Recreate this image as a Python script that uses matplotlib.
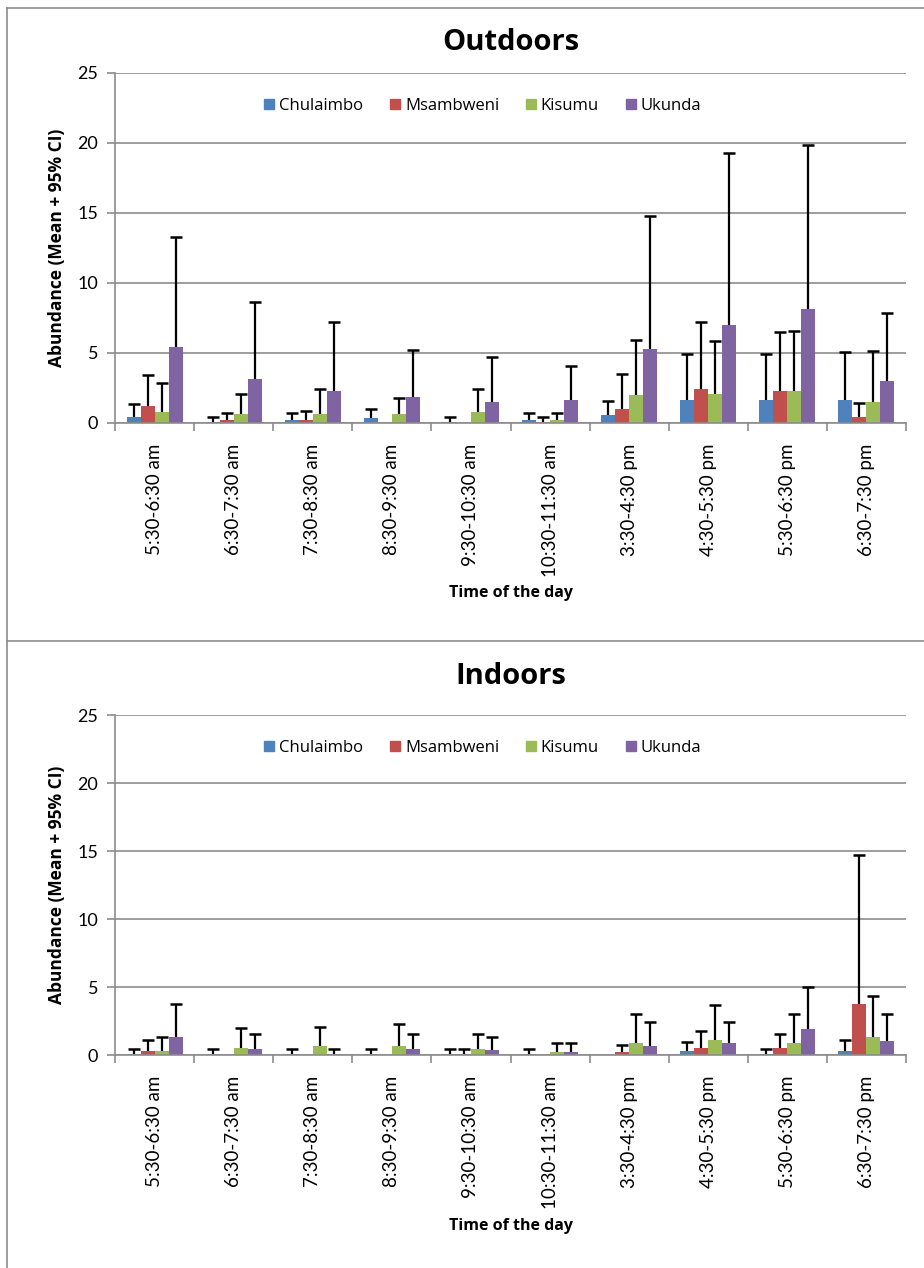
import matplotlib
matplotlib.use("Agg")
import matplotlib.pyplot as plt
import numpy as np
from matplotlib.lines import Line2D
from matplotlib.patches import Patch

# franjas horarias
franjas = ["5:30-6:30 am", "6:30-7:30 am", "7:30-8:30 am", "8:30-9:30 am",
           "9:30-10:30 am", "10:30-11:30 am", "3:30-4:30 pm", "4:30-5:30 pm",
           "5:30-6:30 pm", "6:30-7:30 pm"]
sitios = ["Chulaimbo", "Msambweni", "Kisumu", "Ukunda"]
colores = ["#4F81BD", "#C0504D", "#9BBB59", "#8064A2"]

# Outdoors: media y limite superior del IC 95%
out_chulaimbo = [0.43, 0.07, 0.19, 0.33, 0.05, 0.19, 0.55, 1.65, 1.65, 1.65]
out_chulaimbo_ci = [1.36, 0.43, 0.72, 1.0, 0.43, 0.72, 1.58, 4.95, 4.95, 5.1]
out_msambweni = [1.2, 0.19, 0.19, 0.0, 0.0, 0.05, 0.98, 2.44, 2.32, 0.43]
out_msambweni_ci = [3.42, 0.72, 0.89, 0.0, 0.0, 0.43, 3.49, 7.2, 6.48, 1.44]
out_kisumu = [0.77, 0.65, 0.65, 0.65, 0.77, 0.19, 1.99, 2.1, 2.32, 1.53]
out_kisumu_ci = [2.85, 2.06, 2.44, 1.79, 2.44, 0.72, 5.93, 5.84, 6.58, 5.14]
out_ukunda = [5.43, 3.11, 2.32, 1.87, 1.48, 1.63, 5.31, 6.99, 8.11, 2.99]
out_ukunda_ci = [13.3, 8.66, 7.2, 5.2, 4.71, 4.07, 14.8, 19.26, 19.88, 7.89]

# Indoors
in_chulaimbo = [0.1, 0.1, 0.07, 0.07, 0.07, 0.1, 0.02, 0.32, 0.1, 0.32]
in_chulaimbo_ci = [0.44, 0.44, 0.44, 0.44, 0.44, 0.44, 0.02, 0.98, 0.44, 1.1]
in_msambweni = [0.32, 0.0, 0.0, 0.0, 0.07, 0.02, 0.2, 0.54, 0.54, 3.76]
in_msambweni_ci = [1.12, 0.0, 0.0, 0.0, 0.44, 0.02, 0.71, 1.76, 1.56, 14.68]
in_kisumu = [0.32, 0.54, 0.66, 0.66, 0.41, 0.2, 0.85, 1.1, 0.85, 1.32]
in_kisumu_ci = [1.34, 2.0, 2.07, 2.27, 1.54, 0.85, 3.02, 3.71, 3.02, 4.37]
in_ukunda = [1.32, 0.41, 0.07, 0.46, 0.34, 0.2, 0.66, 0.85, 1.88, 1.0]
in_ukunda_ci = [3.73, 1.54, 0.44, 1.51, 1.29, 0.85, 2.39, 2.46, 5.02, 3.02]

W, H = 924, 1268
fig = plt.figure(figsize=(W / 100, H / 100), dpi=100)
gris = "#8C8C8C"

# marcos de los dos graficos
fig.add_artist(Line2D([7 / W, 7 / W], [0, 1 - 8 / H], color=gris, lw=1.2))
fig.add_artist(Line2D([7 / W, 1], [1 - 8 / H, 1 - 8 / H], color=gris, lw=1.2))
fig.add_artist(Line2D([7 / W, 1], [1 - 641 / H, 1 - 641 / H], color=gris, lw=1.2))


def grafica(top, bottom, titulo, series, cis, title_y, xlabel_y, legend_y):
    ax = fig.add_axes([115 / W, 1 - bottom / H, (906 - 115) / W, (bottom - top) / H])
    x = np.arange(len(franjas))
    w = 0.177
    for k, (vals, ci) in enumerate(zip(series, cis)):
        pos = x + (k - 1.5) * w
        vals = np.array(vals)
        ci = np.array(ci)
        ax.bar(pos, vals, w, color=colores[k], zorder=3)
        m = (ci - vals) > 0.05
        # solo la parte superior del intervalo, con su tope
        ax.vlines(pos[m], vals[m], ci[m], color="black", lw=1.6, zorder=4)
        ax.plot(pos[m], ci[m], linestyle="none", marker="_", markersize=8,
                markeredgewidth=1.8, color="black", zorder=4)
    ax.set_ylim(0, 25)
    ax.set_xlim(-0.5, len(franjas) - 0.5)
    ax.set_yticks([0, 5, 10, 15, 20, 25])
    ax.yaxis.grid(True, color=gris, lw=1.2, zorder=0)
    for s in ["top", "right"]:
        ax.spines[s].set_visible(False)
    for s in ["left", "bottom"]:
        ax.spines[s].set_color(gris)
        ax.spines[s].set_linewidth(1.2)
        ax.spines[s].set_zorder(5)
    ax.set_xticks(x)
    ax.set_xticklabels(franjas, rotation=90, fontsize=13.5, family="Lato")
    ax.set_xticks(np.arange(-0.5, len(franjas)), minor=True)
    ax.tick_params(axis="x", which="major", length=0, pad=15)
    ax.tick_params(axis="x", which="minor", length=6, color=gris, width=1.2)
    ax.tick_params(axis="y", length=6, color=gris, width=1.2, labelsize=13, pad=6)
    for t in ax.get_yticklabels():
        t.set_family("Lato")
    ax.set_ylabel("Abundance (Mean + 95% CI)", fontsize=12.5, fontweight="bold",
                  family="Open Sans", labelpad=8)
    fig.text(511 / W, 1 - title_y / H, titulo, ha="center", va="center",
             fontsize=21, fontweight="bold", family="Open Sans")
    fig.text(511 / W, 1 - xlabel_y / H, "Time of the day", ha="center", va="center",
             fontsize=11.5, fontweight="bold", family="Open Sans")
    handles = [Patch(color=c) for c in colores]
    ax.legend(handles, sitios, ncol=4, frameon=False, loc="center",
              bbox_to_anchor=(0.465, (bottom - legend_y) / (bottom - top)),
              prop={"family": "Open Sans", "size": 12},
              handlelength=0.6, handleheight=0.6, handletextpad=0.3, columnspacing=1.6)
    return ax


grafica(73, 423, "Outdoors",
        [out_chulaimbo, out_msambweni, out_kisumu, out_ukunda],
        [out_chulaimbo_ci, out_msambweni_ci, out_kisumu_ci, out_ukunda_ci],
        42, 593, 106)
grafica(715, 1055, "Indoors",
        [in_chulaimbo, in_msambweni, in_kisumu, in_ukunda],
        [in_chulaimbo_ci, in_msambweni_ci, in_kisumu_ci, in_ukunda_ci],
        676, 1226, 748)

fig.savefig("out.png", dpi=100)
